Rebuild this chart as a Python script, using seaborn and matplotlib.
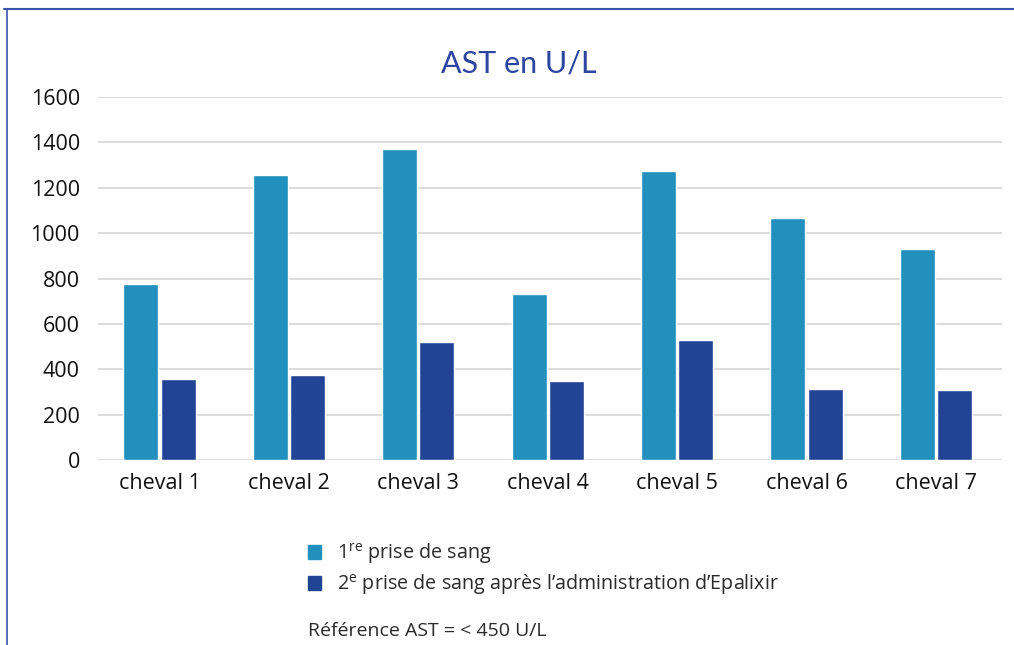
import pandas as pd
import numpy as np
import matplotlib.pyplot as plt
import seaborn as sns
from matplotlib.lines import Line2D

# data
chevaux = ["cheval 1", "cheval 2", "cheval 3", "cheval 4", "cheval 5", "cheval 6", "cheval 7"]
prise_1 = [775, 1255, 1370, 730, 1275, 1065, 930]
prise_2 = [355, 375, 520, 350, 530, 315, 310]
series = ["1$^{\\mathrm{re}}$ prise de sang",
          "2$^{\\mathrm{e}}$ prise de sang après l\u2019administration d\u2019Epalixir"]
yticks = [0, 200, 400, 600, 800, 1000, 1200, 1400, 1600]

df = pd.DataFrame({
    "cheval": chevaux * 2,
    "valeur": prise_1 + prise_2,
    "serie": [series[0]] * len(chevaux) + [series[1]] * len(chevaux),
})

sns.set_style("white")
plt.rcParams['font.family'] = ['Open Sans', 'DejaVu Sans']
plt.rcParams['mathtext.fontset'] = 'custom'
plt.rcParams['mathtext.rm'] = 'Open Sans'

fig = plt.figure(figsize=(10.14, 6.45), dpi=100)
ax = fig.add_axes([0.0966, 0.2868, 0.8915, 0.5628])

palette = ["#2190bc", "#214494"]
sns.barplot(data=df, x="cheval", y="valeur", hue="serie", palette=palette,
            width=0.575, gap=0.06, saturation=1, ax=ax, legend=False)

ax.set_ylim(0, 1600)
ax.set_xlim(-0.476, 6.511)
ax.set_yticks(yticks)
ax.grid(axis="y", color="#d9d9d9", linewidth=1.3)
ax.set_axisbelow(True)
for s in ["top", "right", "left", "bottom"]:
    ax.spines[s].set_visible(False)
ax.tick_params(axis="both", length=0, labelsize=15.5, colors="#111111")
ax.tick_params(axis="x", pad=9)
ax.tick_params(axis="y", pad=13)
ax.set_xlabel("")
ax.set_ylabel("")

fig.text(0.512, 0.902, "AST en U/L", ha="center", va="center",
         fontsize=22, color="#2b45a0", family="Lato")

# legend below the chart
handles = [plt.Rectangle((0, 0), 1, 1, color=c) for c in palette]
leg = fig.legend(handles, series, loc="upper left",
                 bbox_to_anchor=(0.294, 0.176), frameon=False, borderpad=0,
                 handlelength=0.68, handleheight=0.68, handletextpad=0.8,
                 labelspacing=0.3, prop={"family": "Open Sans", "size": 14.2})
for t in leg.get_texts():
    t.set_color("#2a2a2a")

fig.text(0.304, 0.021, "Référence AST = < 450 U/L", ha="left", va="center",
         fontsize=14, color="#2a2a2a", family="Open Sans")

# frame lines (top and left)
fig.add_artist(Line2D([4 / 1014, 1], [1 - 9 / 645, 1 - 9 / 645],
                      transform=fig.transFigure, color="#3a55a8", linewidth=1.5))
fig.add_artist(Line2D([7 / 1014, 7 / 1014], [0, 1 - 9 / 645],
                      transform=fig.transFigure, color="#3a55a8", linewidth=1.2))

fig.savefig("out.png", dpi=100)
